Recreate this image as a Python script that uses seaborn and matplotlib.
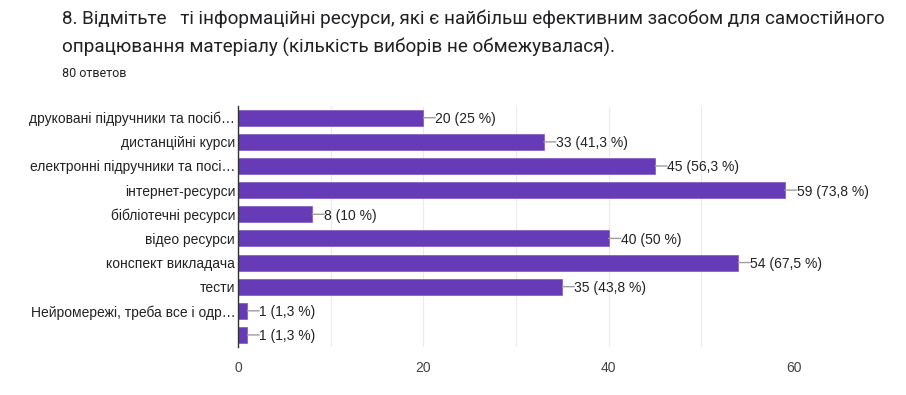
import numpy as np
import pandas as pd
import matplotlib
matplotlib.use("Agg")
import matplotlib.pyplot as plt
import seaborn as sns

# ─── Data ────────────────────────────────────────────────────

categories = [
    "друковані підручники та посіб…",
    "дистанційні курси",
    "електронні підручники та посі…",
    "інтернет-ресурси",
    "бібліотечні ресурси",
    "відео ресурси",
    "конспект викладача",
    "тести",
    "Нейромережі, треба все і одр…",
    "",
]
counts = [20, 33, 45, 59, 8, 40, 54, 35, 1, 1]
percents = ["25", "41,3", "56,3", "73,8", "10", "50", "67,5", "43,8", "1,3", "1,3"]

title = ("8. Відмітьте   ті інформаційні ресурси, які є найбільш ефективним засобом для самостійного\n"
         "опрацювання матеріалу (кількість виборів не обмежувалася).")
subtitle = "80 ответов"

# ─── Plot ────────────────────────────────────────────────────

sns.set_theme(style="white")
plt.rcParams["font.family"] = ["Liberation Sans", "DejaVu Sans"]

df = pd.DataFrame({"cat": categories, "n": counts})

fig = plt.figure(figsize=(9.06, 3.95), dpi=100)
ax = fig.add_axes([0.2627, 0.1215, 0.6137, 0.611])

sns.barplot(data=df, y="cat", x="n", order=categories, orient="h",
            color="#673ab7", saturation=1, width=0.66, ax=ax,
            edgecolor="#7e57c2", linewidth=0.5)

ax.set_xlim(0, 60)
ax.set_xticks([0, 20, 40, 60])
ax.set_xticks(np.arange(0, 61, 10), minor=True)
ax.grid(axis="x", which="both", color="#ebebeb", linewidth=0.8)
ax.set_axisbelow(True)
ax.set_xlabel("")
ax.set_ylabel("")
ax.tick_params(axis="x", labelsize=10, colors="#444444", length=0, pad=10)
ax.tick_params(axis="y", labelsize=10, colors="#222222", length=0, pad=2)

for s in ["top", "right", "bottom"]:
    ax.spines[s].set_visible(False)
ax.spines["left"].set_color("#333333")
ax.spines["left"].set_linewidth(1.0)

# value labels with a short grey leader line
for i, (n, p) in enumerate(zip(counts, percents)):
    ax.annotate("", xy=(n, i), xytext=(12, 0), textcoords="offset pixels",
                arrowprops=dict(arrowstyle="-", color="#9e9e9e", lw=1,
                                shrinkA=0, shrinkB=0))
    ax.annotate(f"{n} ({p} %)", xy=(n, i), xytext=(12, 0), textcoords="offset pixels",
                ha="left", va="center_baseline", fontsize=10, color="#222222")

fig.text(0.068, 0.975, title, ha="left", va="top", fontsize=13.6,
         color="#202124", linespacing=1.6, family=["Roboto", "DejaVu Sans"])
fig.text(0.068, 0.815, subtitle, ha="left", va="center", fontsize=9,
         color="#202124", family=["Roboto", "DejaVu Sans"])

plt.savefig("out.png", dpi=100)
plt.close()
